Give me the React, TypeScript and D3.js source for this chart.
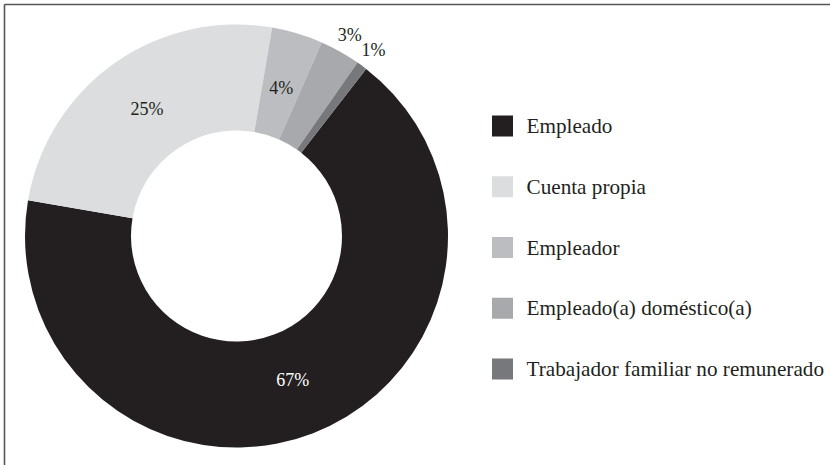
import React from "react";
import * as d3 from "d3";

const categories = [
  "Empleado",
  "Cuenta propia",
  "Empleador",
  "Empleado(a) doméstico(a)",
  "Trabajador familiar no remunerado",
];
const values = [67.2, 25.0, 3.9, 3.1, 0.8];
const labels = ["67%", "25%", "4%", "3%", "1%"];
const colors = ["#231f20", "#dcdddf", "#bcbdc0", "#a7a9ac", "#77787b"];
const outsideLabel = [false, false, false, true, true];

const W = 830;
const H = 465;
const cx = 236.5;
const cy = 236;
const R = 211.5;
const r = 105.5;
const startDeg = 37.8;
const FONT = "Liberation Serif";

export default function App() {
  const pie = d3
    .pie<number>()
    .sort(null)
    .value((d) => d)
    .startAngle((startDeg * Math.PI) / 180)
    .endAngle(((startDeg + 360) * Math.PI) / 180);
  const arcs = pie(values);
  const arcGen = d3.arc<d3.PieArcDatum<number>>().innerRadius(r).outerRadius(R);
  const inLabel = d3.arc<d3.PieArcDatum<number>>().innerRadius(155).outerRadius(155);
  const outLabel = d3.arc<d3.PieArcDatum<number>>().innerRadius(231).outerRadius(231);

  const legendY = d3.scalePoint<string>().domain(categories).range([126, 369]);

  return (
    <svg
      width={W}
      height={H}
      style={{ position: "absolute", left: 0, top: 0, background: "#fff" }}
    >
      <rect x={0} y={0} width={W} height={H} fill="#fff" />
      <line x1={4.5} y1={4.5} x2={W} y2={4.5} stroke="#555" strokeWidth={1.6} />
      <line x1={4.5} y1={4.5} x2={4.5} y2={H} stroke="#555" strokeWidth={1.6} />
      <g transform={`translate(${cx},${cy})`}>
        {arcs.map((a, i) => (
          <path key={i} d={arcGen(a) || ""} fill={colors[i]} />
        ))}
        {arcs.map((a, i) => {
          const [x, y] = outsideLabel[i] ? outLabel.centroid(a) : inLabel.centroid(a);
          return (
            <text
              key={"l" + i}
              x={x}
              y={y}
              textAnchor="middle"
              dominantBaseline="central"
              style={{ fontFamily: FONT, fontSize: "18px" }}
              fill={i === 0 ? "#ffffff" : "#231f20"}
            >
              {labels[i]}
            </text>
          );
        })}
      </g>
      <g>
        {categories.map((c, i) => {
          const y = legendY(c) as number;
          return (
            <g key={c}>
              <rect x={492} y={y - 10.5} width={21} height={21} fill={colors[i]} />
              <text
                x={526.5}
                y={y}
                dominantBaseline="central"
                style={{ fontFamily: FONT, fontSize: "21.2px" }}
                fill="#231f20"
              >
                {c}
              </text>
            </g>
          );
        })}
      </g>
    </svg>
  );
}
